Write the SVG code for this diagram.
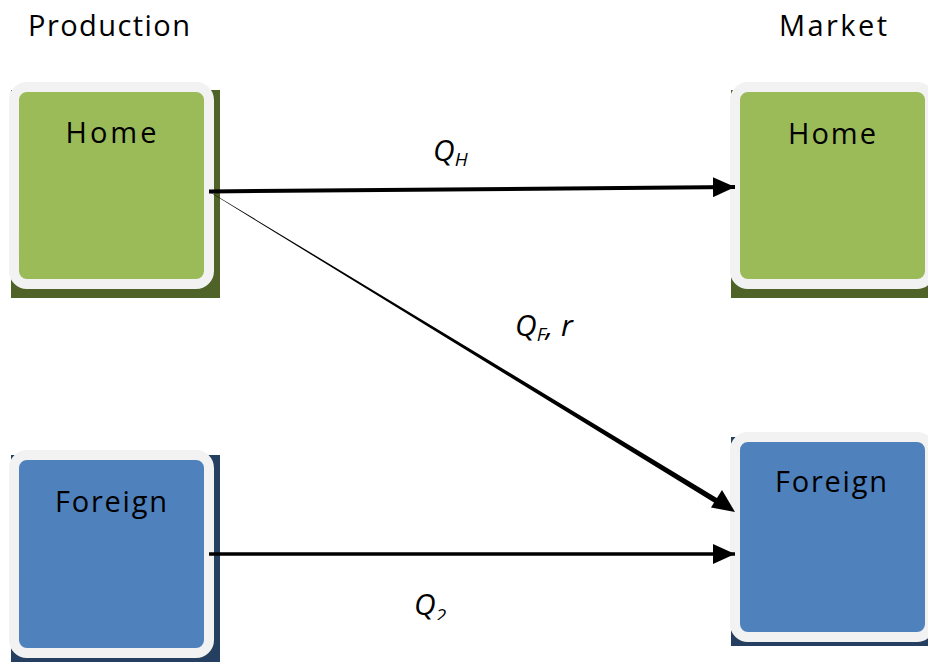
<svg xmlns="http://www.w3.org/2000/svg" width="928" height="662" viewBox="0 0 928 662">
  <style>
    .title { font-family: "Open Sans", "Liberation Sans", sans-serif; font-size: 29px; fill: #000; }
    .name { font-family: "Open Sans", "Liberation Sans", sans-serif; font-size: 29px; fill: #000; text-anchor: middle; }
    .lbl { font-family: "Open Sans", "Liberation Sans", sans-serif; font-size: 30px; font-style: italic; fill: #000; }
    .sub { font-size: 19px; }
    .frame { stroke: #F2F2F2; stroke-width: 10; }
    .home .shadow { fill: #4F6228; }
    .home .face { fill: #9BBB59; }
    .foreign .shadow { fill: #243F60; }
    .foreign .face { fill: #4F81BD; }
    .link { stroke: #000; fill: none; }
  </style>
  <defs>
    <marker id="head" markerWidth="22" markerHeight="20" refX="22" refY="10" orient="auto" markerUnits="userSpaceOnUse">
      <path d="M0,0 L22,10 L0,20 Z" fill="#000"/>
    </marker>
    <clipPath id="bottomClip">
      <rect x="0" y="0" width="928" height="620"/>
    </clipPath>
  </defs>

  <rect width="928" height="662" fill="#fff"/>

  <text class="title" x="28" y="36" textLength="162" lengthAdjust="spacing">Production</text>
  <text class="title" x="779" y="36" textLength="108" lengthAdjust="spacing">Market</text>

  <g id="prod-home" class="home">
    <rect class="shadow" x="11" y="90" width="209" height="208"/>
    <rect class="face frame" x="14" y="87" width="195" height="197" rx="13"/>
    <text class="name" x="111" y="143" textLength="91" lengthAdjust="spacing">Home</text>
  </g>

  <g id="prod-foreign" class="foreign">
    <rect class="shadow" x="11" y="455" width="209" height="207"/>
    <rect class="face frame" x="14" y="455" width="195" height="198" rx="13"/>
    <text class="name" x="111" y="512" textLength="112" lengthAdjust="spacing">Foreign</text>
  </g>

  <g id="market-home" class="home">
    <rect class="shadow" x="731" y="90" width="197" height="208"/>
    <rect class="face frame" x="735" y="87" width="195" height="197" rx="13"/>
    <text class="name" x="832" y="144" textLength="88" lengthAdjust="spacing">Home</text>
  </g>

  <g id="market-foreign" class="foreign">
    <rect class="shadow" x="731" y="437" width="197" height="209"/>
    <rect class="face frame" x="735" y="437" width="195" height="200" rx="13"/>
    <text class="name" x="831" y="492" textLength="112" lengthAdjust="spacing">Foreign</text>
  </g>

  <g id="connectors">
    <line class="link" x1="209" y1="191.5" x2="735" y2="187" stroke-width="4" marker-end="url(#head)"/>
    <!-- tapered flow line from home production to the foreign market -->
    <polygon points="211,192.4 212,193.6 718,505 721,500.5" fill="#000"/>
    <path d="M735,512 L711,507.5 L722,490 Z" fill="#000"/>
    <line class="link" x1="209" y1="554" x2="735" y2="554" stroke-width="3.5" marker-end="url(#head)"/>
  </g>

  <g id="labels">
    <text class="lbl" x="433" y="161">Q<tspan class="sub" dy="5">H</tspan></text>
    <text class="lbl" x="515" y="336">Q<tspan class="sub" dy="5">F</tspan><tspan dy="-5">,  r</tspan></text>
    <text class="lbl" x="414" y="615" clip-path="url(#bottomClip)">Q<tspan class="sub" dy="7">2</tspan></text>
  </g>
</svg>
